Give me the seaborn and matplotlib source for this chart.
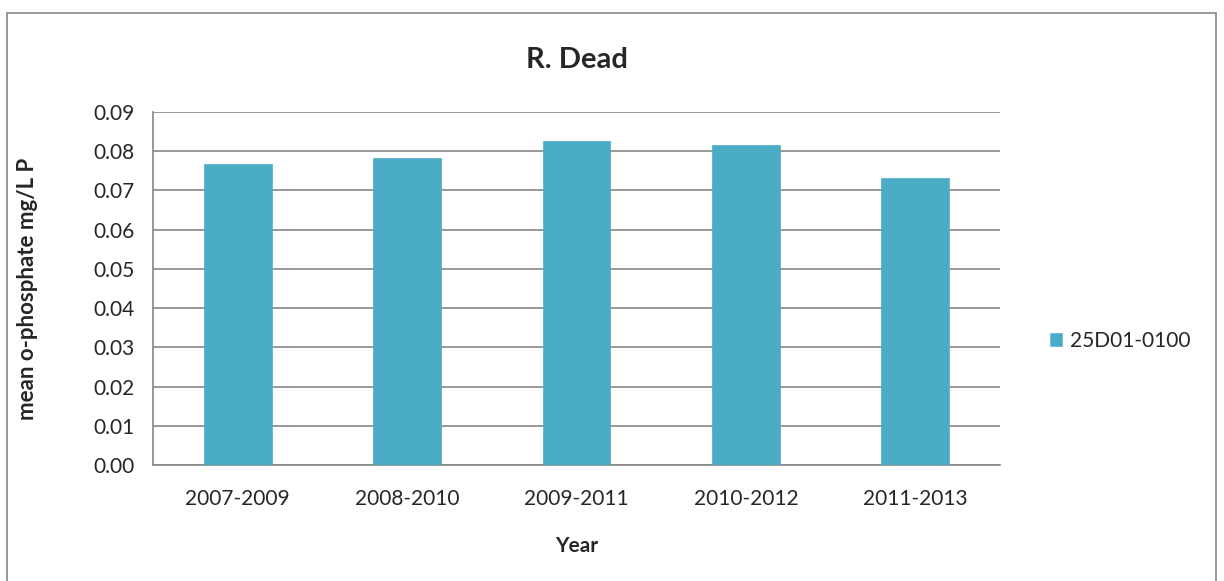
import numpy as np
import pandas as pd
import seaborn as sns
import matplotlib.pyplot as plt
from matplotlib.patches import Rectangle, Patch

years = ['2007-2009', '2008-2010', '2009-2011', '2010-2012', '2011-2013']
values = [0.0767, 0.0783, 0.0826, 0.0816, 0.0731]
station = '25D01-0100'

df = pd.DataFrame({'Year': years, 'value': values})

sns.set_style('white')
plt.rcParams['font.family'] = ['Lato', 'DejaVu Sans']

fig = plt.figure(figsize=(12.24, 5.81), dpi=100)
ax = fig.add_axes([153 / 1224, 1 - 465 / 581, (1000 - 153) / 1224, (465 - 112) / 581])

bar_color = '#4BACC6'
grid_color = '#868686'

sns.barplot(data=df, x='Year', y='value', color=bar_color, width=0.4,
            saturation=1, edgecolor=bar_color, linewidth=0.5, ax=ax, zorder=3)

ticks = np.arange(0, 0.0901, 0.01)
ax.set_ylim(0, 0.09)
ax.set_xlim(-0.5, 4.5)
ax.set_yticks(ticks)
ax.set_yticklabels([f'{v:.2f}' for v in ticks], fontsize=15)
ax.tick_params(axis='x', length=0, labelsize=15, pad=17)
ax.tick_params(axis='y', length=7, width=1.2, color=grid_color, direction='out', pad=6)
ax.set_xticks(np.arange(-0.5, 5, 1), minor=True)
ax.tick_params(axis='x', which='minor', length=7, width=1.2, color=grid_color, direction='out')
ax.yaxis.grid(True, color=grid_color, linewidth=1.2, zorder=0)
ax.set_axisbelow(True)

for s in ['top', 'right']:
    ax.spines[s].set_visible(False)
for s in ['left', 'bottom']:
    ax.spines[s].set_color(grid_color)
    ax.spines[s].set_linewidth(1.2)

ax.set_xlabel('Year', fontsize=15, fontweight='bold', labelpad=20)
ax.set_ylabel('mean o-phosphate mg/L P', fontsize=16, fontweight='bold', labelpad=40)
ax.set_title('R. Dead', fontsize=21, fontweight='bold', pad=32)

fig.legend(handles=[Patch(facecolor=bar_color, label=station)],
           loc='center left', bbox_to_anchor=(1030 / 1224, 1 - 341 / 581),
           frameon=False, fontsize=15, handlelength=0.7, handleheight=0.7,
           handletextpad=0.3)

fig.patches.append(Rectangle((7 / 1224, -0.05), (1216 - 7) / 1224, 1 - 13 / 581 + 0.05,
                             transform=fig.transFigure, fill=False,
                             edgecolor=grid_color, linewidth=1.2))

fig.savefig('out.png', dpi=100)
